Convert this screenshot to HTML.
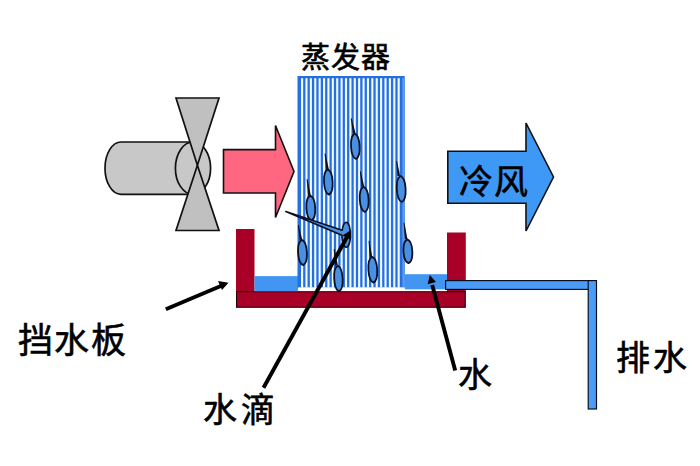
<!DOCTYPE html>
<html lang="zh-CN">
<head>
<meta charset="utf-8">
<style>
html,body{margin:0;padding:0;background:#fff;}
body{width:700px;height:466px;overflow:hidden;position:relative;font-family:"Liberation Sans",sans-serif;}
svg{position:absolute;left:0;top:0;}
.t{position:absolute;white-space:nowrap;color:#000;line-height:1;-webkit-text-stroke:0.6px #000;}
</style>
</head>
<body>
<svg width="700" height="466" viewBox="0 0 700 466">
  <!-- fan motor cylinder -->
  <path d="M121,142 L193,142 L193,194.3 L121,194.3 A16,26.15 0 0 1 121,142 Z" fill="#C8C8C8" stroke="#111" stroke-width="1.7"/>
  <ellipse cx="193" cy="168.15" rx="17.6" ry="26.15" fill="#C8C8C8" stroke="#111" stroke-width="1.7"/>
  <!-- fan blades -->
  <path d="M176,98 L219,98 L197.4,165.2 Z" fill="#C0C0C0" stroke="#111" stroke-width="1.7"/>
  <path d="M176,230.5 L219,230.5 L197.4,165.2 Z" fill="#C0C0C0" stroke="#111" stroke-width="1.7"/>
  <!-- pink arrow -->
  <path d="M223.5,149.6 L275.5,149.6 L275.5,125.5 L294,171.5 L275.5,217.5 L275.5,193 L223.5,193 Z" fill="#FF6680" stroke="#111" stroke-width="1.6"/>
  <!-- blue arrow -->
  <path d="M447.8,151.2 L526,151.2 L526,123 L553.5,177 L526,231 L526,203.3 L447.8,203.3 Z" fill="#3E98F5" stroke="#111" stroke-width="1.6"/>
  <!-- tray -->
  <rect x="236" y="229" width="18.5" height="63" fill="#A80026"/>
  <rect x="447" y="232.5" width="18.8" height="59.5" fill="#A80026"/>
  <rect x="236.55" y="291.65" width="228.7" height="15.6" fill="#A80026" stroke="#1E0008" stroke-width="1.1"/>
  <!-- water -->
  <rect x="254.5" y="276.1" width="43.7" height="15.2" fill="#4296F2"/>
  <rect x="404.5" y="274.2" width="42.5" height="15.4" fill="#4296F2"/>
  <rect x="404.5" y="289.6" width="42.5" height="1.5" fill="#fff"/>
  <!-- evaporator -->
  <rect x="297.5" y="76" width="107.2" height="211.6" fill="#2470E2"/>
  <rect x="402.3" y="78" width="2.4" height="209.6" fill="#5A9AF0"/>
  <rect x="301.05" y="78.2" width="2.1" height="209.4" fill="#F2FAFF"/>
    <rect x="305.44" y="78.2" width="2.1" height="209.4" fill="#F2FAFF"/>
    <rect x="309.83" y="78.2" width="2.1" height="209.4" fill="#F2FAFF"/>
    <rect x="314.22" y="78.2" width="2.1" height="209.4" fill="#F2FAFF"/>
    <rect x="318.61" y="78.2" width="2.1" height="209.4" fill="#F2FAFF"/>
    <rect x="323.00" y="78.2" width="2.1" height="209.4" fill="#F2FAFF"/>
    <rect x="327.39" y="78.2" width="2.1" height="209.4" fill="#F2FAFF"/>
    <rect x="331.78" y="78.2" width="2.1" height="209.4" fill="#F2FAFF"/>
    <rect x="336.17" y="78.2" width="2.1" height="209.4" fill="#F2FAFF"/>
    <rect x="340.56" y="78.2" width="2.1" height="209.4" fill="#F2FAFF"/>
    <rect x="344.95" y="78.2" width="2.1" height="209.4" fill="#F2FAFF"/>
    <rect x="349.34" y="78.2" width="2.1" height="209.4" fill="#F2FAFF"/>
    <rect x="353.73" y="78.2" width="2.1" height="209.4" fill="#F2FAFF"/>
    <rect x="358.12" y="78.2" width="2.1" height="209.4" fill="#F2FAFF"/>
    <rect x="362.51" y="78.2" width="2.1" height="209.4" fill="#F2FAFF"/>
    <rect x="366.90" y="78.2" width="2.1" height="209.4" fill="#F2FAFF"/>
    <rect x="371.29" y="78.2" width="2.1" height="209.4" fill="#F2FAFF"/>
    <rect x="375.68" y="78.2" width="2.1" height="209.4" fill="#F2FAFF"/>
    <rect x="380.07" y="78.2" width="2.1" height="209.4" fill="#F2FAFF"/>
    <rect x="384.46" y="78.2" width="2.1" height="209.4" fill="#F2FAFF"/>
    <rect x="388.85" y="78.2" width="2.1" height="209.4" fill="#F2FAFF"/>
    <rect x="393.24" y="78.2" width="2.1" height="209.4" fill="#F2FAFF"/>
    <rect x="397.63" y="78.2" width="2.1" height="209.4" fill="#F2FAFF"/>
  <rect x="298.2" y="287.5" width="106.5" height="3.6" fill="#fff"/>
  <!-- pipe -->
  <rect x="445.6" y="280.6" width="146" height="8.8" fill="#4A9CF6" stroke="#060B1C" stroke-width="1.15"/>
  <rect x="588.2" y="280.6" width="8.3" height="128.4" fill="#4A9CF6" stroke="#060B1C" stroke-width="1.15"/>
  <!-- droplets -->
    <path d="M355.47,132.94 L351.64,118.21 L350.76,118.39 L352.93,133.46 Z" fill="#111"/>
    <path d="M355.3,133.60000000000002 C361.03,136.14 361.03,156.46 355.3,159.0 C349.57,156.46 349.57,136.14 355.3,133.60000000000002 Z" transform="rotate(-3 355.3 146.3)" fill="#4A90E2" stroke="#0C1020" stroke-width="1.8" stroke-linejoin="round"/>
    <path d="M328.78,169.00 L325.44,153.33 L324.56,153.47 L326.22,169.40 Z" fill="#111"/>
    <path d="M328.3,169.4 C334.03,171.92 334.03,192.08 328.3,194.6 C322.57,192.08 322.57,171.92 328.3,169.4 Z" transform="rotate(-3 328.3 182.0)" fill="#4A90E2" stroke="#0C1020" stroke-width="1.8" stroke-linejoin="round"/>
    <path d="M364.18,186.38 L360.74,171.32 L359.86,171.48 L361.62,186.82 Z" fill="#111"/>
    <path d="M364.2,186.8 C370.07,189.32 370.07,209.48 364.2,212.0 C358.33,209.48 358.33,189.32 364.2,186.8 Z" transform="rotate(-3 364.2 199.4)" fill="#4A90E2" stroke="#0C1020" stroke-width="1.8" stroke-linejoin="round"/>
    <path d="M400.09,175.81 L397.05,160.93 L396.15,161.07 L397.51,176.19 Z" fill="#111"/>
    <path d="M401.2,176.0 C407.07,178.60 407.07,199.40 401.2,202.0 C395.33,199.40 395.33,178.60 401.2,176.0 Z" transform="rotate(-3 401.2 189.0)" fill="#4A90E2" stroke="#0C1020" stroke-width="1.8" stroke-linejoin="round"/>
    <path d="M310.79,195.31 L307.44,178.93 L306.56,179.07 L308.21,195.69 Z" fill="#111"/>
    <path d="M310.8,195.6 C316.67,198.08 316.67,217.92 310.8,220.4 C304.93,217.92 304.93,198.08 310.8,195.6 Z" transform="rotate(-3 310.8 208.0)" fill="#4A90E2" stroke="#0C1020" stroke-width="1.8" stroke-linejoin="round"/>
    <path d="M302.18,239.57 L298.74,225.12 L297.86,225.28 L299.62,240.03 Z" fill="#111"/>
    <path d="M302.5,239.9 C308.37,242.42 308.37,262.58 302.5,265.1 C296.63,262.58 296.63,242.42 302.5,239.9 Z" transform="rotate(-3 302.5 252.5)" fill="#4A90E2" stroke="#0C1020" stroke-width="1.8" stroke-linejoin="round"/>
    <path d="M337.79,265.32 L334.65,248.94 L333.75,249.06 L335.21,265.68 Z" fill="#111"/>
    <path d="M338.4,265.70000000000005 C344.00,268.28 344.00,288.92 338.4,291.5 C332.80,288.92 332.80,268.28 338.4,265.70000000000005 Z" transform="rotate(-3 338.4 278.6)" fill="#4A90E2" stroke="#0C1020" stroke-width="1.8" stroke-linejoin="round"/>
    <path d="M372.19,256.65 L369.45,240.75 L368.55,240.85 L369.61,256.95 Z" fill="#111"/>
    <path d="M372.8,256.8 C378.67,259.38 378.67,280.02 372.8,282.59999999999997 C366.93,280.02 366.93,259.38 372.8,256.8 Z" transform="rotate(-3 372.8 269.7)" fill="#4A90E2" stroke="#0C1020" stroke-width="1.8" stroke-linejoin="round"/>
    <path d="M407.49,239.13 L404.45,222.64 L403.55,222.76 L404.91,239.47 Z" fill="#111"/>
    <path d="M407.9,239.4 C413.77,241.78 413.77,260.82 407.9,263.2 C402.03,260.82 402.03,241.78 407.9,239.4 Z" transform="rotate(-3 407.9 251.3)" fill="#4A90E2" stroke="#0C1020" stroke-width="1.8" stroke-linejoin="round"/>
  <!-- drop F with wedge tail -->
  <path d="M285.8,211.5 L342.2,230.2 A4.3,12.5 0 1 1 341.9,235.3 Z" transform="" fill="#4A90E2" stroke="#0C1020" stroke-width="1.6" stroke-linejoin="round"/>
  <!-- pointer arrows -->
  <g stroke="#000" stroke-width="3.9" stroke-linecap="butt">
    <line x1="165.8" y1="309.2" x2="222" y2="285.5"/>
    <line x1="263.5" y1="387.8" x2="347" y2="237"/>
    <line x1="455.2" y1="370.4" x2="432.2" y2="285"/>
  </g>
  <g fill="#000">
    <path d="M228.5,282.8 L218,281 L222,290 Z"/>
    <path d="M350.6,230.2 L342.6,235.4 L350.4,239.8 Z"/>
    <path d="M429.8,275.0 L427.6,284.3 L436.0,282.0 Z"/>
  </g>
</svg>
<div class="t" style="left:301px;top:43.5px;font-size:29px;letter-spacing:0.9px;">蒸发器</div>
<div class="t" style="left:458.5px;top:164.5px;font-size:34px;letter-spacing:1.8px;">冷风</div>
<div class="t" style="left:17.5px;top:322.5px;font-size:35px;letter-spacing:1.5px;">挡水板</div>
<div class="t" style="left:203px;top:393px;font-size:34px;letter-spacing:4px;">水滴</div>
<div class="t" style="left:458px;top:357.5px;font-size:34px;">水</div>
<div class="t" style="left:616px;top:340.5px;font-size:34px;letter-spacing:2.5px;">排水</div>
</body>
</html>
